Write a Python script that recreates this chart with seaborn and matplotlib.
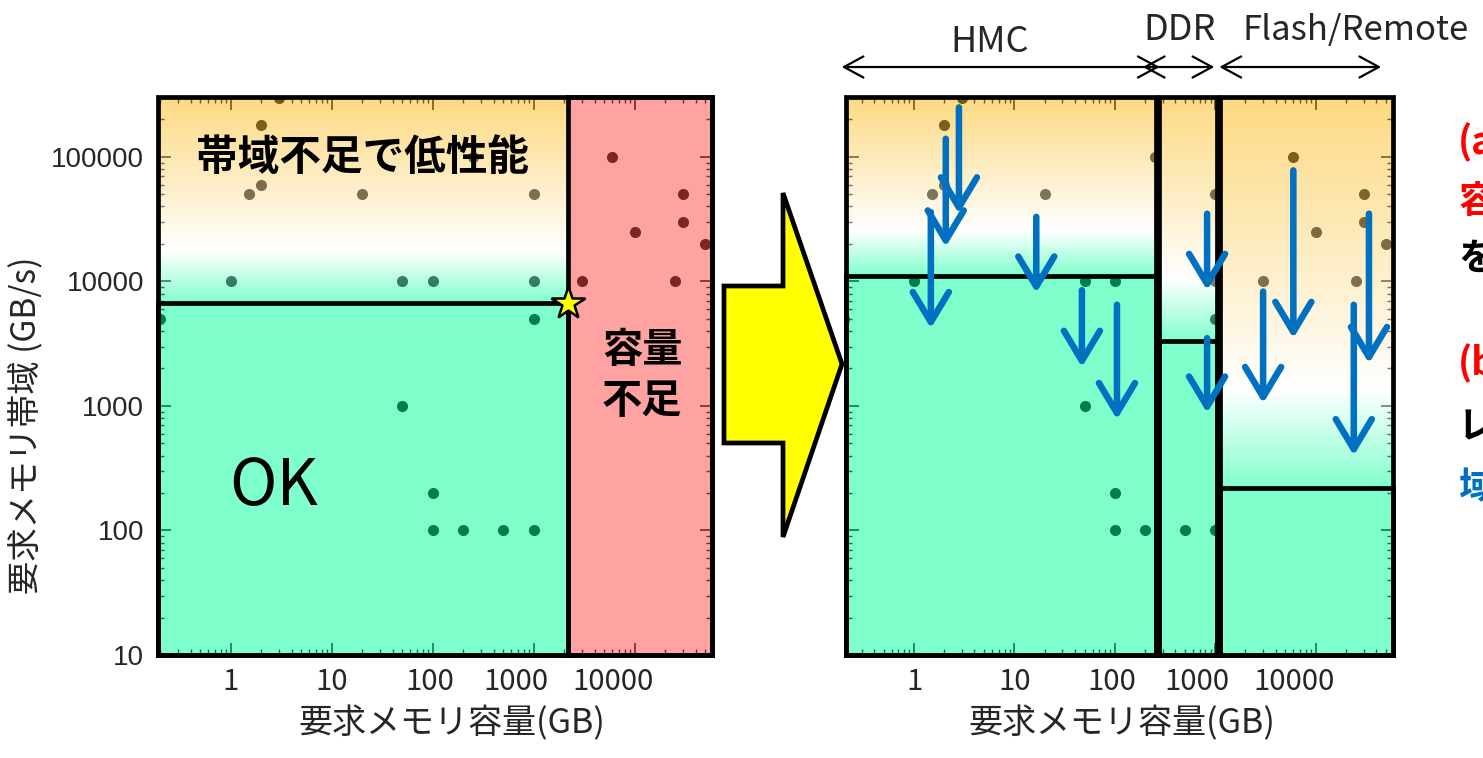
import numpy as np
import matplotlib
matplotlib.use("Agg")
import matplotlib.pyplot as plt
from matplotlib.patches import Rectangle, Polygon
from matplotlib.transforms import ScaledTranslation
import seaborn as sns

# ---------------- data ----------------
# application requirements: memory capacity (GB) vs. memory bandwidth (GB/s)
capacity_gb = [3, 2, 250, 6000, 2, 1.5, 20, 1000, 30000, 30000, 10000, 50000,
               3000, 25000, 1, 50, 100, 1000, 1000, 0.2, 50, 100, 100, 200, 500, 1000]
bandwidth_gbs = [300000, 180000, 100000, 100000, 60000, 50000, 50000, 50000, 50000, 30000,
                 25000, 20000, 10000, 10000, 10000, 10000, 10000, 10000, 5000, 5000,
                 1000, 200, 100, 100, 100, 100]

# single memory system: capacity and bandwidth limits
capacity_limit_gb = 2200
bandwidth_limit_gbs = 6700

# tiered memory system
tier_names = ["HMC", "DDR", "Flash/Remote"]
tier_cap_lo = [0.21, 275, 1120]
tier_cap_hi = [260, 1050, 59000]
tier_bw_limit = [11000, 3300, 220]
tier_span_lo = [0.19, 190, 1100]
tier_span_hi = [280, 980, 45000]

# bandwidth reduction achieved per application in the tiered system
arrow_cap = [2.8, 2.07, 1.47, 16.5, 47, 105, 830, 830, 6000, 3000, 34000, 24000]
arrow_bw_from = [250000, 140000, 36000, 33000, 8500, 6500, 35000, 3500, 78000, 8300, 35000, 6500]
arrow_bw_to = [35000, 19000, 4200, 8100, 2050, 780, 8500, 880, 3500, 1050, 2200, 400]

cap_ticks = [1, 10, 100, 1000, 10000]
bw_ticks = [10, 100, 1000, 10000, 100000]

# ---------------- style ----------------
sns.set_theme(style="white")
plt.rcParams["font.family"] = ["Noto Sans CJK JP", "DejaVu Sans"]

W, H = 1483, 758
fig = plt.figure(figsize=(W / 100, H / 100), dpi=100)


def fig_box(x0, y0, x1, y1):
    return [x0 / W, 1 - y1 / H, (x1 - x0) / W, (y1 - y0) / H]


def fpx(x, y):
    return (x / W, 1 - y / H)


C_GREEN = (1 / 255, 1.0, 153 / 255)
C_PINK = (1.0, 71 / 255, 71 / 255)
C_YELLOW = (251 / 255, 179 / 255, 1 / 255)
ALPHA = 0.5
LW = 3.4
YLIM = (10, 303000)


def gradient_image(n=300):
    t = np.linspace(0, 1, n)
    stops = [0.0, 0.75, 1.0]
    cols = np.array([C_YELLOW, (1, 1, 1), C_GREEN])
    rgb = np.stack([np.interp(t, stops, cols[:, k]) for k in range(3)], axis=1)
    rgba = np.concatenate([rgb, np.full((n, 1), ALPHA)], axis=1)
    return rgba[:, None, :]


def to_frac(ax, x, y):
    return ax.transAxes.inverted().transform(ax.transData.transform((x, y)))


def band_gradient(ax, x0, x1, y0, y1):
    fx0, fy0 = to_frac(ax, x0, y0)
    fx1, fy1 = to_frac(ax, x1, y1)
    ax.imshow(gradient_image(), extent=[fx0, fx1, fy0, fy1], transform=ax.transAxes,
              aspect="auto", interpolation="bilinear", zorder=3)


def fill_rect(ax, x0, x1, y0, y1, color):
    ax.add_patch(Rectangle((x0, y0), x1 - x0, y1 - y0, facecolor=color, alpha=ALPHA,
                           edgecolor="none", zorder=3))


def outline_rect(ax, x0, x1, y0, y1):
    ax.add_patch(Rectangle((x0, y0), x1 - x0, y1 - y0, fill=False, edgecolor="black",
                           lw=LW, zorder=5, clip_on=False, joinstyle="miter"))


def setup_axes(ax, xlim, ylabels):
    ax.set_xscale("log")
    ax.set_yscale("log")
    sns.scatterplot(x=capacity_gb, y=bandwidth_gbs, ax=ax, color="black", s=64,
                    linewidth=0, zorder=2, legend=False)
    ax.set_xlim(*xlim)
    ax.set_ylim(*YLIM)
    ax.set_axisbelow(True)
    for s in ax.spines.values():
        s.set_visible(False)
    ax.set_xticks(cap_ticks)
    ax.set_xticklabels([str(v) for v in cap_ticks])
    ax.set_yticks(bw_ticks)
    ax.set_yticklabels([str(v) for v in bw_ticks] if ylabels else [])
    ax.tick_params(which="both", direction="in", top=True, bottom=True, left=True,
                   right=True, color="black")
    ax.tick_params(which="major", length=9, width=1.2)
    ax.tick_params(which="minor", length=4.5, width=1.0)
    ax.tick_params(axis="x", labelsize=21, pad=9)
    ax.tick_params(axis="y", labelsize=20, pad=10)
    for lab in ax.get_yticklabels():
        lab.set_fontfamily("Liberation Sans")
    ax.set_xlabel("要求メモリ容量(GB)", fontsize=24.5)
    ax.xaxis.label.set_va("center")


# ---------------- left: single memory ----------------
ax1 = fig.add_axes(fig_box(158, 97, 712, 655))
xlim1 = (0.19, 58000)
setup_axes(ax1, xlim1, True)

fill_rect(ax1, xlim1[0], capacity_limit_gb, YLIM[0], bandwidth_limit_gbs, C_GREEN)
fill_rect(ax1, capacity_limit_gb, xlim1[1], YLIM[0], YLIM[1], C_PINK)
band_gradient(ax1, xlim1[0], capacity_limit_gb, bandwidth_limit_gbs, YLIM[1])
outline_rect(ax1, xlim1[0], xlim1[1], YLIM[0], YLIM[1])
outline_rect(ax1, xlim1[0], capacity_limit_gb, YLIM[0], bandwidth_limit_gbs)
outline_rect(ax1, capacity_limit_gb, xlim1[1], YLIM[0], YLIM[1])

ax1.plot([capacity_limit_gb], [bandwidth_limit_gbs], marker="*", ms=25, mfc="#FFFF00",
         mec="black", mew=1.8, zorder=8, clip_on=False)

ax1.text(0.370, 0.891, "帯域不足で低性能", transform=ax1.transAxes, ha="center",
         va="center", fontsize=30, fontweight="bold", color="black", zorder=6)
ax1.text(0.874, 0.50, "容量\n不足", transform=ax1.transAxes, ha="center", va="center",
         fontsize=29, fontweight="bold", color="black", linespacing=1.3, zorder=6)
ax1.text(0.209, 0.301, "OK", transform=ax1.transAxes, ha="center", va="center",
         fontsize=46, color="black", zorder=6)

ax1.set_ylabel("要求メモリ帯域 (GB/s)", fontsize=24)
ax1.yaxis.label.set_va("center")
ax1.yaxis.set_label_coords((27 - 158) / 554, (655 - 425) / 558)
ax1.xaxis.set_label_coords((452 - 158) / 554, (655 - 724) / 558)

# ---------------- right: tiered memory ----------------
ax2 = fig.add_axes(fig_box(846, 97, 1393, 655))
xlim2 = (0.21, 59000)
setup_axes(ax2, xlim2, False)
ax2.xaxis.set_label_coords((1122 - 846) / 547, (655 - 724) / 558)

for lo, hi, bw in zip(tier_cap_lo, tier_cap_hi, tier_bw_limit):
    fill_rect(ax2, lo, hi, YLIM[0], bw, C_GREEN)
    band_gradient(ax2, lo, hi, bw, YLIM[1])
    outline_rect(ax2, lo, hi, YLIM[0], YLIM[1])
    outline_rect(ax2, lo, hi, YLIM[0], bw)

for x, y0, y1 in zip(arrow_cap, arrow_bw_from, arrow_bw_to):
    ax2.annotate("", xy=(x, y1), xytext=(x, y0),
                 arrowprops=dict(arrowstyle="->,head_length=0.8,head_width=0.48",
                                 lw=4.7, color="#0070C0", mutation_scale=27,
                                 shrinkA=0, shrinkB=0),
                 zorder=7, annotation_clip=False)

# tier ranges above the right panel
span_y = (655 - 67) / 558
for lo, hi in zip(tier_span_lo, tier_span_hi):
    ax2.annotate("", xy=(hi, span_y), xytext=(lo, span_y),
                 xycoords=ax2.get_xaxis_transform(), textcoords=ax2.get_xaxis_transform(),
                 arrowprops=dict(arrowstyle="<->,head_length=0.7,head_width=0.38",
                                 lw=1.6, color="black", mutation_scale=20,
                                 shrinkA=0, shrinkB=0),
                 annotation_clip=False)

fig.text(*fpx(990, 42), tier_names[0], ha="center", va="center", fontsize=26)
fig.text(*fpx(1180, 30), tier_names[1], ha="center", va="center", fontsize=26)
fig.text(*fpx(1243, 30), tier_names[2], ha="left", va="center", fontsize=25)

# block arrow between the panels
arrow_px = [(724, 286), (783, 286), (783, 193), (842, 364), (783, 537), (783, 443), (724, 443)]
fig.add_artist(Polygon([fpx(x, y) for x, y in arrow_px], closed=True,
                       transform=fig.transFigure, facecolor="#FFFF00", edgecolor="black",
                       lw=LW, joinstyle="miter"))

# side notes
notes = [("(a)", 142, "#FF0000"), ("容量", 201, "#FF0000"), ("を", 258, "black"),
         ("(b)", 363, "#FF0000"), ("レ", 427, "black"), ("域", 487, "#0070C0")]
for s, y, c in notes:
    fig.text(*fpx(1458, y), s, ha="left", va="center", fontsize=27,
             fontweight="bold", color=c)

# nudge the two widest capacity tick labels left
fig.canvas.draw()
label_shift_px = [0, 0, -3, -18, -22]
for ax in (ax1, ax2):
    for tick, dx in zip(ax.xaxis.get_major_ticks(), label_shift_px):
        lab = tick.label1
        lab.set_transform(lab.get_transform()
                          + ScaledTranslation(dx / 100, 0, fig.dpi_scale_trans))

fig.savefig("out.png", dpi=100)
